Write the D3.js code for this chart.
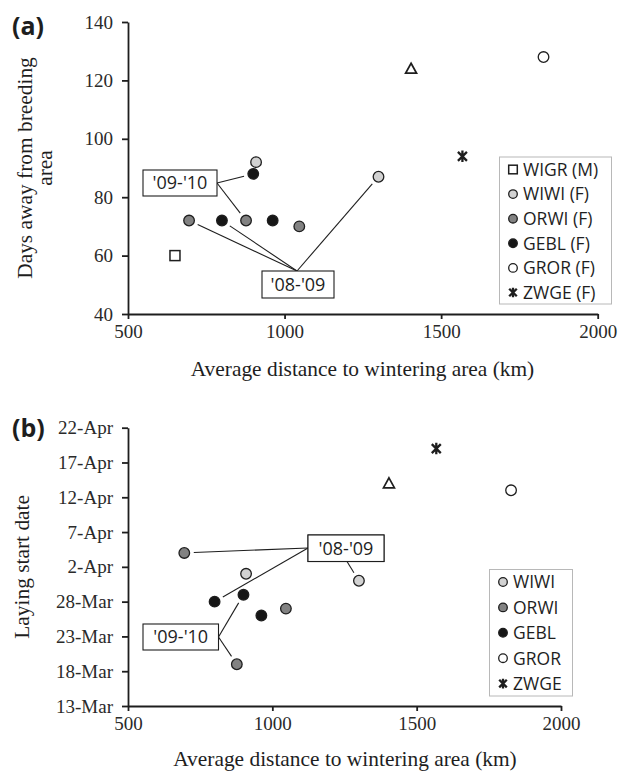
<!DOCTYPE html>
<html><head><meta charset="utf-8">
<script src="https://cdn.jsdelivr.net/npm/d3@7"></script>
<style>body{margin:0;background:#fff}</style>
</head><body>
<svg id="c" width="618" height="772"></svg>
<script>
// ---------- DATA ----------
// Panel (a): [average distance to wintering area (km), days away from breeding area]
const legendA = ["WIGR (M)", "WIWI (F)", "ORWI (F)", "GEBL (F)", "GROR (F)", "ZWGE (F)"];
const wigrA = [[650, 60]];
const wiwiA = [[909, 92], [1300, 87]];
const orwiA = [[695, 72], [877, 72], [1047, 70]];
const geblA = [[800, 72], [900, 88], [962, 72]];
const grorA = [[1827, 128]];
const zwgeA = [[1568, 94]];
const otherA = [[1404, 124]];

// Panel (b): [average distance (km), laying start date]
const legendB = ["WIWI", "ORWI", "GEBL", "GROR", "ZWGE"];
const wiwiB = [[909, "1-Apr"], [1300, "31-Mar"]];
const orwiB = [[695, "4-Apr"], [877, "19-Mar"], [1047, "27-Mar"]];
const geblB = [[800, "28-Mar"], [900, "29-Mar"], [962, "26-Mar"]];
const grorB = [[1827, "13-Apr"]];
const zwgeB = [[1568, "19-Apr"]];
const otherB = [[1404, "14-Apr"]];

const xTicks = [500, 1000, 1500, 2000];
const yTicksA = [40, 60, 80, 100, 120, 140];
const yTicksB = ["13-Mar", "18-Mar", "23-Mar", "28-Mar", "2-Apr", "7-Apr", "12-Apr", "17-Apr", "22-Apr"];
const seasonLabels = ["'08-'09", "'09-'10"];

// ---------- STYLE ----------
const serif = "'Liberation Serif', 'Times New Roman', serif";
const sans = "'Open Sans', Lato, sans-serif";
const ink = "#1e1e1e";
const style = {
  WIGR: {shape: "square", fill: "#fff"},
  WIWI: {shape: "circle", fill: "#d2d2d2"},
  ORWI: {shape: "circle", fill: "#828282"},
  GEBL: {shape: "circle", fill: "#161616"},
  GROR: {shape: "circle", fill: "#fff"},
  ZWGE: {shape: "star"},
  OTHER: {shape: "triangle"}
};

const parseDate = d3.timeParse("%d-%b");
const svg = d3.select("#c");

function marker(g, key, cx, cy, big) {
  const s = style[key];
  const r = big ? 5.3 : 4.3;
  if (s.shape === "circle") {
    g.append("circle").attr("cx", cx).attr("cy", cy).attr("r", r)
      .attr("fill", s.fill).attr("stroke", ink).attr("stroke-width", 1.3);
  } else if (s.shape === "square") {
    const h = big ? 5 : 4.3;
    g.append("rect").attr("x", cx - h).attr("y", cy - h).attr("width", 2 * h).attr("height", 2 * h)
      .attr("fill", "#fff").attr("stroke", ink).attr("stroke-width", 1.5);
  } else if (s.shape === "triangle") {
    g.append("path").attr("d", `M${cx},${cy - 5.5}L${cx + 5.5},${cy + 4.5}L${cx - 5.5},${cy + 4.5}Z`)
      .attr("fill", "#fff").attr("stroke", ink).attr("stroke-width", 1.7);
  } else if (s.shape === "star") {
    const a = big ? 4.5 : 3.8, v = big ? 5.8 : 4.8;
    g.append("path").attr("d",
      `M${cx - a},${cy - a}L${cx + a},${cy + a}M${cx - a},${cy + a}L${cx + a},${cy - a}M${cx},${cy - v}L${cx},${cy + v}`)
      .attr("stroke", ink).attr("stroke-width", 2.3).attr("fill", "none");
  }
}

function axes(g, x, y, yTickVals, yFmt, top, bottom, left, right) {
  const ax = g.append("g").attr("transform", `translate(0,${bottom})`)
    .call(d3.axisBottom(x).tickValues(xTicks).tickSize(5).tickSizeOuter(0).tickPadding(6).tickFormat(d3.format("d")));
  const ay = g.append("g").attr("transform", `translate(${left},0)`)
    .call(d3.axisLeft(y).tickValues(yTickVals).tickSize(6).tickSizeOuter(0).tickPadding(9).tickFormat(yFmt));
  [ax, ay].forEach(a => {
    a.selectAll("path.domain").attr("stroke", ink).attr("stroke-width", 1.8);
    a.selectAll(".tick line").attr("stroke", ink).attr("stroke-width", 1.8);
    a.selectAll(".tick text").attr("font-family", serif).attr("font-size", 19).attr("fill", "#2a2a2a");
  });
}

function shorten(p, q, gap) { // segment from anchor p towards point q, stopping 'gap' short
  const dx = q[0] - p[0], dy = q[1] - p[1], L = Math.hypot(dx, dy);
  return [q[0] - dx / L * gap, q[1] - dy / L * gap];
}

function annot(g, label, box, anchor, targets) {
  targets.forEach(t => {
    const e = shorten(anchor, t, 9.5);
    g.append("line").attr("x1", anchor[0]).attr("y1", anchor[1]).attr("x2", e[0]).attr("y2", e[1])
      .attr("stroke", ink).attr("stroke-width", 1.1);
  });
  g.append("rect").attr("x", box[0]).attr("y", box[1]).attr("width", box[2]).attr("height", box[3])
    .attr("fill", "#fff").attr("stroke", ink).attr("stroke-width", 1.1);
  g.append("text").attr("x", box[0] + box[2] / 2).attr("y", box[1] + box[3] / 2).attr("dy", "0.36em")
    .attr("text-anchor", "middle").attr("font-family", sans).attr("font-size", 18).attr("fill", ink).text(label);
}

function legend(g, names, box, x0, y0, step) {
  g.append("rect").attr("x", box[0]).attr("y", box[1]).attr("width", box[2]).attr("height", box[3])
    .attr("fill", "#fff").attr("stroke", "#b8b8b8").attr("stroke-width", 1);
  names.forEach((n, i) => {
    const key = n.split(" ")[0];
    marker(g, key, x0, y0 + i * step, false);
    g.append("text").attr("x", x0 + 10).attr("y", y0 + i * step).attr("dy", "0.36em")
      .attr("font-family", sans).attr("font-size", 17.5).attr("fill", ink).text(n);
  });
}

// ---------- PANEL (a) ----------
{
  const L = 128, R = 597.7, T = 22, B = 314;
  const g = svg.append("g");
  const x = d3.scaleLinear().domain([500, 2000]).range([L, R]);
  const y = d3.scaleLinear().domain([40, 140]).range([B, T]);
  axes(g, x, y, yTicksA, d3.format("d"), T, B, L, R);
  const P = d => [x(d[0]), y(d[1])];

  annot(g, seasonLabels[0], [262, 271, 72, 27], [297, 271], [P(orwiA[0]), P(geblA[0]), P(wiwiA[1])]);
  annot(g, seasonLabels[1], [143, 170, 74, 26], [217, 183], [P(geblA[1]), P(orwiA[1])]);

  const sets = [["WIGR", wigrA], ["WIWI", wiwiA], ["ORWI", orwiA], ["GEBL", geblA], ["GROR", grorA], ["ZWGE", zwgeA], ["OTHER", otherA]];
  sets.forEach(([k, arr]) => arr.forEach(d => marker(g, k, x(d[0]), y(d[1]), true)));

  legend(g, legendA, [499.5, 157, 112, 147], 513, 169.5, 24.6);

  g.append("text").attr("x", 362.5).attr("y", 376).attr("text-anchor", "middle")
    .attr("font-family", serif).attr("font-size", 21.4).attr("fill", ink)
    .text("Average distance to wintering area (km)");
  const yt = g.append("text").attr("transform", `translate(0,${(T + B) / 2}) rotate(-90)`)
    .attr("text-anchor", "middle").attr("font-family", serif).attr("font-size", 21.4).attr("fill", ink);
  yt.append("tspan").attr("x", 0).attr("y", 32).text("Days away from breeding");
  yt.append("tspan").attr("x", 0).attr("y", 52).text("area");
  g.append("text").attr("x", 12).attr("y", 35).attr("font-family", sans).attr("font-weight", "bold")
    .attr("font-size", 25).attr("fill", ink).text("(a)");
}

// ---------- PANEL (b) ----------
{
  const L = 128, R = 561, T = 427.7, B = 706;
  const g = svg.append("g");
  const x = d3.scaleLinear().domain([500, 2000]).range([L, R]);
  const y = d3.scaleTime().domain([parseDate(yTicksB[0]), parseDate(yTicksB[yTicksB.length - 1])]).range([B, T]);
  axes(g, x, y, yTicksB.map(parseDate), d3.timeFormat("%-d-%b"), T, B, L, R);
  const P = d => [x(d[0]), y(parseDate(d[1]))];

  annot(g, seasonLabels[0], [308, 535, 76, 26.5], [308, 548], [P(orwiB[0]), P(geblB[0])]);
  annot(g, seasonLabels[0], [308, 535, 76, 26.5], [347, 561.5], [P(wiwiB[1])]);
  annot(g, seasonLabels[1], [143, 624, 75.5, 26], [218.5, 637], [P(geblB[1]), P(orwiB[1])]);

  const sets = [["WIWI", wiwiB], ["ORWI", orwiB], ["GEBL", geblB], ["GROR", grorB], ["ZWGE", zwgeB], ["OTHER", otherB]];
  sets.forEach(([k, arr]) => arr.forEach(d => marker(g, k, P(d)[0], P(d)[1], true)));

  legend(g, legendB, [489.5, 569.5, 83, 126.5], 503, 582, 25.4);

  g.append("text").attr("x", 345).attr("y", 766).attr("text-anchor", "middle")
    .attr("font-family", serif).attr("font-size", 21.4).attr("fill", ink)
    .text("Average distance to wintering area (km)");
  g.append("text").attr("transform", `translate(0,${(T + B) / 2}) rotate(-90)`)
    .attr("x", 0).attr("y", 29).attr("text-anchor", "middle").attr("font-family", serif)
    .attr("font-size", 21.4).attr("fill", ink).text("Laying start date");
  g.append("text").attr("x", 12).attr("y", 437).attr("font-family", sans).attr("font-weight", "bold")
    .attr("font-size", 25).attr("fill", ink).text("(b)");
}
</script>
</body></html>
